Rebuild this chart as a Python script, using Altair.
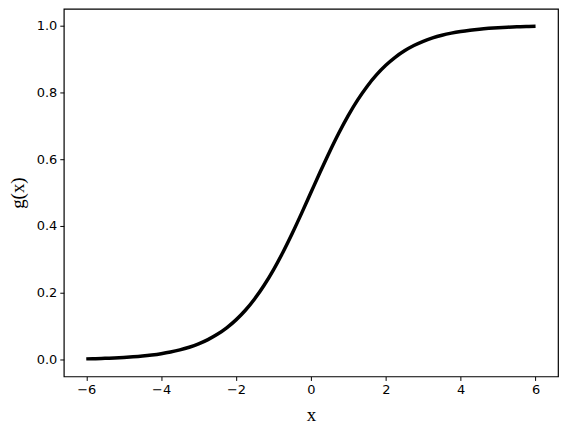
import altair as alt
import pandas as pd

x_vals = [-6.0, -5.75, -5.5, -5.25, -5.0, -4.75, -4.5, -4.25, -4.0, -3.75, -3.5, -3.25,
          -3.0, -2.75, -2.5, -2.25, -2.0, -1.75, -1.5, -1.25, -1.0, -0.75, -0.5, -0.25,
          0.0, 0.25, 0.5, 0.75, 1.0, 1.25, 1.5, 1.75, 2.0, 2.25, 2.5, 2.75,
          3.0, 3.25, 3.5, 3.75, 4.0, 4.25, 4.5, 4.75, 5.0, 5.25, 5.5, 5.75, 6.0]
g_vals = [0.0025, 0.0032, 0.0041, 0.0052, 0.0067, 0.0086, 0.011, 0.0141, 0.018, 0.023, 0.0293, 0.0373,
          0.0474, 0.0601, 0.0759, 0.0954, 0.1192, 0.148, 0.1824, 0.2227, 0.2689, 0.3208, 0.3775, 0.4378,
          0.5, 0.5622, 0.6225, 0.6792, 0.7311, 0.7773, 0.8176, 0.852, 0.8808, 0.9046, 0.9241, 0.9399,
          0.9526, 0.9627, 0.9707, 0.977, 0.982, 0.9859, 0.989, 0.9914, 0.9933, 0.9948, 0.9959, 0.9968, 0.9975]
x_ticks = [-6, -4, -2, 0, 2, 4, 6]
y_ticks = [0.0, 0.2, 0.4, 0.6, 0.8, 1.0]

df = pd.DataFrame({"x": x_vals, "g": g_vals})

chart = alt.Chart(df).mark_line(color="black", strokeWidth=3.5, interpolate="monotone").encode(
    x=alt.X("x:Q", scale=alt.Scale(domain=[-6.6, 6.6], nice=False, zero=False),
            axis=alt.Axis(values=x_ticks, title="x", format="d",
                          labelExpr="replace(datum.label, '-', '\u2212')")),
    y=alt.Y("g:Q", scale=alt.Scale(domain=[-0.05, 1.05], nice=False, zero=False),
            axis=alt.Axis(values=y_ticks, title="g(x)", format=".1f")),
).properties(
    width=496, height=369,
    autosize=alt.AutoSizeParams(type="none"),
    padding={"left": 56, "top": 0, "right": 4, "bottom": 49},
).configure_view(
    stroke="black", strokeWidth=1.2
).configure_axis(
    grid=False, domain=False, ticks=True, tickColor="black", tickSize=4, tickWidth=1,
    labelFont="DejaVu Sans", labelFontSize=13, labelColor="black", labelPadding=3,
    titleFont="Liberation Serif", titleFontSize=19, titleFontWeight="normal", titleColor="black",
).configure_axisX(titlePadding=9).configure_axisY(titlePadding=9)

chart.save("out.html", embed_options={"renderer": "svg", "actions": False})
